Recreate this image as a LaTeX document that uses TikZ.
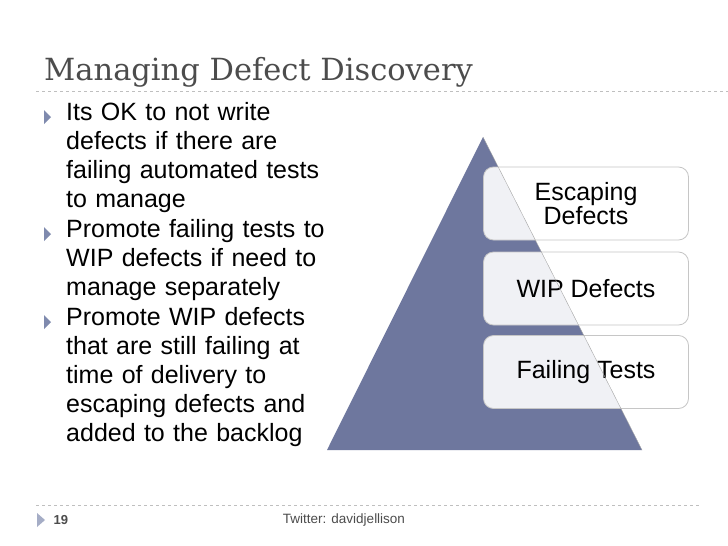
\documentclass[tikz,border=0pt]{standalone}
\usepackage{fontspec}
\setmainfont{Liberation Sans}
\newfontfamily\titlefont{DejaVu Serif}
\begin{document}
\begin{tikzpicture}[x=1pt,y=-1pt,
  body/.style={anchor=north west,inner sep=0pt,font=\fontsize{25}{29}\selectfont,align=left,text width=300pt},
  lvl/.style={draw=gray!45,line width=0.8pt,fill=white,fill opacity=0.9,text opacity=1,rounded corners=10pt,minimum width=205pt,minimum height=73pt,font=\fontsize{25}{24}\selectfont,align=center}]
\definecolor{bulcol}{HTML}{7F8AAE}
\definecolor{tri}{HTML}{6E779E}
\useasboundingbox (0,0) rectangle (728,546);
\fill[white] (0,0) rectangle (728,546);
\node[anchor=base west,inner sep=0pt,font=\titlefont\fontsize{30.5}{32}\selectfont,text=black!70] (title) at (44,80) {Managing Defect Discovery};
\draw[dashed,gray!50,line width=0.8pt] (36,91) -- (728,91);
\foreach \y in {117,234,322}{\fill[bulcol] (44,\y-7) -- (51,\y) -- (44,\y+7) -- cycle;}
\node[body] (b1) at (66,102) {Its OK to not write\\defects if there are\\failing automated tests\\to manage};
\node[body] (b2) at (66,219) {Promote failing tests to\\WIP defects if need to\\manage separately};
\node[body] (b3) at (66,307) {Promote WIP defects\\that are still failing at\\time of delivery to\\escaping defects and\\added to the backlog};
\coordinate (apex) at (483,137);
\coordinate (bl) at (327,450);
\coordinate (br) at (642,450);
\fill[tri] (apex) -- (br) -- (bl) -- cycle;
\node[lvl] (esc) at (586,203.5) {Escaping\\Defects};
\node[lvl] (wip) at (586,288.5) {WIP Defects};
\node[lvl] (fail) at (586,372) {Failing Tests};
\draw[gray!70,line width=0.4pt] (apex) -- (br);
\draw[dashed,gray!50,line width=0.8pt] (36,505) -- (700,505);
\fill[bulcol!70] (37,513) -- (45,520) -- (37,527) -- cycle;
\node[anchor=west,font=\bfseries\fontsize{13}{14}\selectfont,text=black!70] (num) at (50,520) {19};
\node[font=\fontsize{13.5}{14}\selectfont,text=black!70] (tw) at (344,520) {Twitter: davidjellison};
\end{tikzpicture}
\end{document}
